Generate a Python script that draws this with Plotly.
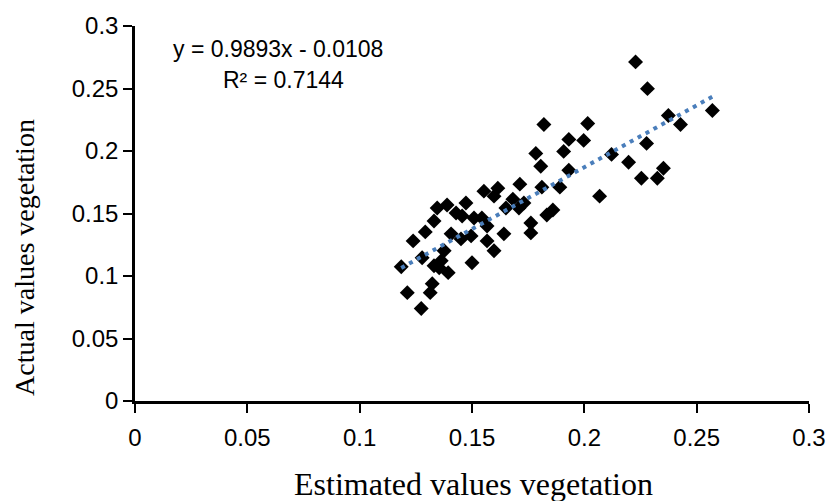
import plotly.graph_objects as go

# Estimated (x) and actual (y) vegetation values
estimated = [0.1185, 0.1212, 0.1238, 0.1274, 0.1278, 0.1292, 0.1314, 0.1331, 0.1323, 0.1331,
             0.1345, 0.1354, 0.1363, 0.1394, 0.1376, 0.1389, 0.1407, 0.1429, 0.1456, 0.1451,
             0.1473, 0.1496, 0.1500, 0.1509, 0.1544, 0.1553, 0.1567, 0.1567, 0.1598, 0.1598,
             0.1615, 0.1642, 0.1651, 0.1682, 0.1709, 0.1713, 0.1731, 0.1762, 0.1762, 0.1784,
             0.1806, 0.1811, 0.1820, 0.1833, 0.1860, 0.1891, 0.1908, 0.1931, 0.1931, 0.1997,
             0.2015, 0.2068, 0.2121, 0.2197, 0.2228, 0.2254, 0.2277, 0.2281, 0.2325, 0.2352,
             0.2374, 0.2428, 0.2570]
actual = [0.1074, 0.0867, 0.1281, 0.0740, 0.1146, 0.1353, 0.0867, 0.1082, 0.0939, 0.1440,
          0.1544, 0.1066, 0.1122, 0.1027, 0.1202, 0.1568, 0.1337, 0.1504, 0.1480, 0.1297,
          0.1584, 0.1321, 0.1106, 0.1464, 0.1464, 0.1679, 0.1400, 0.1281, 0.1639, 0.1202,
          0.1703, 0.1337, 0.1544, 0.1615, 0.1544, 0.1735, 0.1584, 0.1424, 0.1345, 0.1981,
          0.1878, 0.1711, 0.2212, 0.1488, 0.1528, 0.1711, 0.1997, 0.2093, 0.1846, 0.2085,
          0.2220, 0.1639, 0.1973, 0.1910, 0.2713, 0.1782, 0.2061, 0.2499, 0.1782, 0.1862,
          0.2284, 0.2212, 0.2324]

# Linear trendline coefficients (from the chart's equation)
slope = 0.9893
intercept = -0.0108
r_squared = 0.7144

trend_x = [min(estimated), max(estimated)]
trend_y = [slope * v + intercept for v in trend_x]

tick_vals = [0, 0.05, 0.1, 0.15, 0.2, 0.25, 0.3]
tick_text = ["0", "0.05", "0.1", "0.15", "0.2", "0.25", "0.3"]

fig = go.Figure()
fig.add_trace(go.Scatter(
    x=estimated, y=actual, mode="markers",
    marker=dict(symbol="diamond", size=11.5, color="#000000", line=dict(width=0)),
    showlegend=False, hoverinfo="x+y"))
fig.add_trace(go.Scatter(
    x=trend_x, y=trend_y, mode="lines",
    line=dict(color="#4a7ebb", width=4, dash="4px,5px"),
    showlegend=False, hoverinfo="skip"))

tick_font = dict(family="Liberation Sans, Arial, sans-serif", size=24, color="#000000")
eq_font = dict(family="Liberation Sans, Arial, sans-serif", size=23, color="#000000")
xtitle_font = dict(family="Liberation Serif, Times New Roman, serif", size=32, color="#000000")
ytitle_font = dict(family="Liberation Serif, Times New Roman, serif", size=28, color="#000000")

axis_common = dict(
    showgrid=False, zeroline=False, showline=True, linecolor="#000000", linewidth=2.5,
    ticks="outside", ticklen=9, tickwidth=2, tickcolor="#000000",
    tickfont=tick_font, range=[0, 0.3], tickvals=tick_vals, ticktext=tick_text,
)

fig.update_layout(
    width=838, height=501,
    margin=dict(l=135, r=27, t=24, b=100),
    paper_bgcolor="#ffffff", plot_bgcolor="#ffffff",
    xaxis=dict(**axis_common, ticklabelstandoff=4),
    yaxis=dict(**axis_common),
    annotations=[
        dict(text="Estimated values vegetation", xref="paper", yref="paper",
             x=0.502, y=-0.22, showarrow=False, font=xtitle_font,
             xanchor="center", yanchor="middle"),
        dict(text="Actual values vegetation", xref="paper", yref="paper",
             x=-0.163, y=0.382, showarrow=False, font=ytitle_font, textangle=-90,
             xanchor="center", yanchor="middle"),
        dict(text=f"y = {slope}x - {abs(intercept)}", xref="paper", yref="paper",
             x=0.2115, y=0.939, showarrow=False, font=eq_font,
             xanchor="center", yanchor="middle"),
        dict(text=f"R² = {r_squared}", xref="paper", yref="paper",
             x=0.22, y=0.857, showarrow=False, font=eq_font,
             xanchor="center", yanchor="middle"),
    ],
)

fig.write_html("out.html")
